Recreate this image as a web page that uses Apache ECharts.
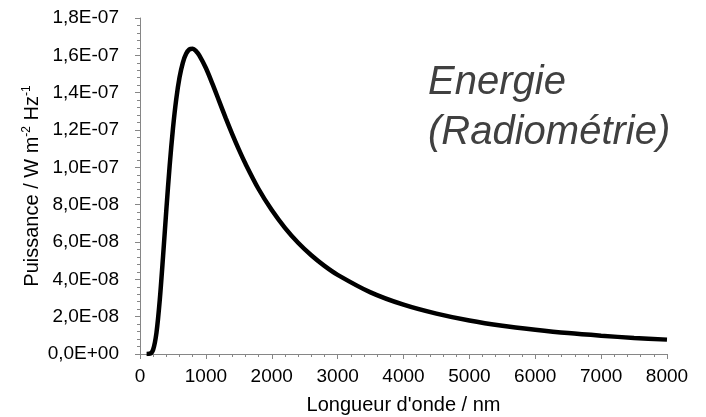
<!DOCTYPE html>
<html>
<head>
<meta charset="utf-8">
<script src="https://cdn.jsdelivr.net/npm/echarts@6/dist/echarts.min.js"></script>
<style>html,body{margin:0;padding:0;background:#fff}#c{width:706px;height:417px}</style>
</head>
<body>
<div id="c"></div>
<script>
// Wavelength (nm)
const wavelengths = [100, 150, 200, 250, 300, 350, 400, 450, 500, 550, 600, 650, 700, 750, 800, 850, 900, 1000, 1100, 1200, 1300, 1400, 1500, 1600, 1800, 2000, 2200, 2400, 2600, 2800, 3000, 3500, 4000, 4500, 5000, 5500, 6000, 6500, 7000, 7500, 8000];
// Power (W m-2 Hz-1)
const power = [0, 1.4e-10, 2.4e-9, 1.14e-8, 2.89e-8, 5.23e-8, 7.73e-8, 1.008e-7, 1.207e-7, 1.365e-7, 1.482e-7, 1.560e-7, 1.608e-7, 1.632e-7, 1.635e-7, 1.623e-7, 1.600e-7, 1.532e-7, 1.447e-7, 1.356e-7, 1.265e-7, 1.178e-7, 1.096e-7, 1.020e-7, 8.84e-8, 7.71e-8, 6.76e-8, 5.96e-8, 5.29e-8, 4.72e-8, 4.24e-8, 3.30e-8, 2.64e-8, 2.16e-8, 1.79e-8, 1.51e-8, 1.30e-8, 1.12e-8, 9.8e-9, 8.6e-9, 7.7e-9];
const yTickLabels = ['0,0E+00', '2,0E-08', '4,0E-08', '6,0E-08', '8,0E-08', '1,0E-07', '1,2E-07', '1,4E-07', '1,6E-07', '1,8E-07'];
const xTickLabels = ['0', '1000', '2000', '3000', '4000', '5000', '6000', '7000', '8000'];

const FONT = '"Liberation Sans", Arial, sans-serif';
const chart = echarts.init(document.getElementById('c'), null, {renderer: 'canvas'});
const axisColor = '#868686';
chart.setOption({
  animation: false,
  backgroundColor: '#fff',
  grid: {left: 140, right: 39, top: 18, bottom: 63, containLabel: false, outerBoundsMode: 'none'},
  xAxis: {
    type: 'value', min: 0, max: 8000, interval: 1000,
    name: "Longueur d'onde / nm", nameLocation: 'middle', nameGap: 41, nameMoveOverlap: false,
    nameTextStyle: {fontFamily: FONT, fontSize: 20, color: '#000'},
    axisLine: {show: true, onZero: false, lineStyle: {color: axisColor, width: 1}},
    axisTick: {show: true, length: 5, inside: false, lineStyle: {color: axisColor}},
    minorTick: {show: true, splitNumber: 5, length: 3, lineStyle: {color: axisColor}},
    splitLine: {show: false},
    axisLabel: {fontFamily: FONT, fontSize: 19, color: '#000', margin: 13,
      formatter: v => xTickLabels[Math.round(v / 1000)]}
  },
  yAxis: {
    type: 'value', min: 0, max: 1.8e-7, interval: 2e-8,
    name: 'Puissance / W m{sup|-2} Hz{sup|-1}', nameLocation: 'middle', nameGap: 97, nameMoveOverlap: false,
    nameTextStyle: {fontFamily: FONT, fontSize: 20, color: '#000',
      rich: {sup: {fontFamily: FONT, fontSize: 12, color: '#000', padding: [0, 0, 10, 0]}}},
    axisLine: {show: true, lineStyle: {color: axisColor, width: 1}},
    axisTick: {show: true, length: 5, inside: false, lineStyle: {color: axisColor}},
    minorTick: {show: true, splitNumber: 5, length: 3, lineStyle: {color: axisColor}},
    splitLine: {show: false},
    axisLabel: {fontFamily: FONT, fontSize: 19, color: '#000', margin: 21,
      formatter: v => yTickLabels[Math.round(v / 2e-8)]}
  },
  graphic: [{
    type: 'text', left: 428, top: 58,
    style: {text: 'Energie\n(Radiométrie)', font: 'italic 40px ' + FONT, lineHeight: 50, fill: '#404040'}
  }],
  series: [{
    type: 'line', smooth: 0.3, symbol: 'none',
    data: wavelengths.map((w, i) => [w, power[i]]),
    lineStyle: {color: '#000', width: 4.5}
  }]
});
</script>
</body>
</html>
